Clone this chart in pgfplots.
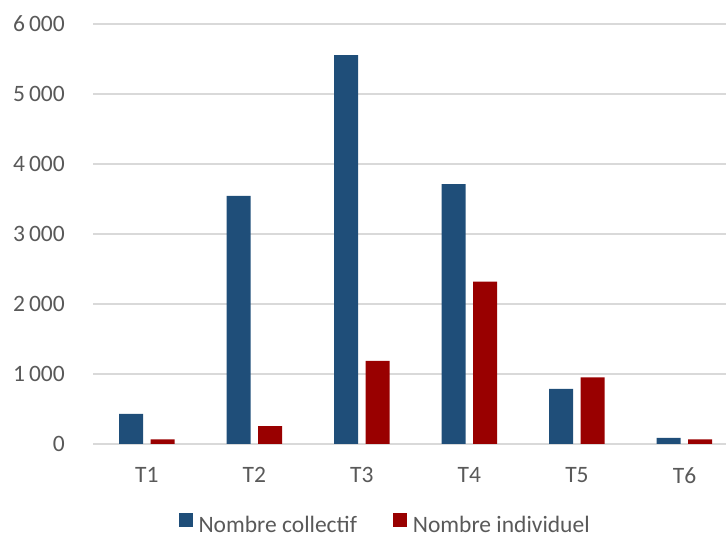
\documentclass[border=0pt]{standalone}
\usepackage{pgfplots}
\pgfplotsset{compat=1.18}
\usepackage{fontspec}
\setmainfont{Carlito}
\definecolor{cblue}{HTML}{1F4E79}
\definecolor{cred}{HTML}{990000}
\definecolor{cgrid}{HTML}{D9D9D9}
\definecolor{ctext}{HTML}{595959}
\begin{document}
\fontsize{23.5bp}{28bp}\selectfont
\begin{tikzpicture}
\useasboundingbox (0,0) rectangle (726bp,536bp);
\begin{axis}[
  at={(93bp,92bp)}, anchor=south west,
  scale only axis,
  width=633bp, height=420bp,
  ybar=7.5bp, bar width=24bp,
  xmin=-0.5, xmax=5.386,
  ymin=0, ymax=6000,
  xtick={0,1,2,3,4,5},
  xticklabels={T1,T2,T3,T4,T5,T6},
  ytick={0,1000,2000,3000,4000,5000,6000},
  major tick length=0pt,
  axis line style={draw=none},
  ymajorgrids, grid style={cgrid, line width=1.5bp},
  /pgf/number format/.cd, fixed, precision=0, 1000 sep={\,}, assume math mode=true,
  /pgfplots/.cd,
  tick label style={font=\fontsize{23.5bp}{28bp}\selectfont, text=ctext},
  yticklabel style={anchor=east, inner sep=0pt, xshift=-28bp},
  xticklabel style={anchor=north, inner sep=0pt, yshift=-23bp},
  legend columns=2,
  legend style={draw=none, fill=none, at={(0.4615,-0.194)}, anchor=center,
    font=\fontsize{23.5bp}{28bp}\selectfont, text=ctext,
    /tikz/every even column/.append style={column sep=34bp},
    inner sep=0pt, row sep=0pt},
  legend image code/.code={\fill[#1] (0bp,-0.5bp) rectangle (14bp,13.5bp); \path (18bp,0bp);},
]
\addplot[fill=cblue, draw=none] coordinates {(0,430) (1,3543) (2,5557) (3,3714) (4,786) (5,86)};
\addplot[fill=cred, draw=none] coordinates {(0,67) (1,257) (2,1186) (3,2319) (4,953) (5,67)};
\legend{Nombre collectif, Nombre individuel}
\end{axis}
\end{tikzpicture}
\end{document}
